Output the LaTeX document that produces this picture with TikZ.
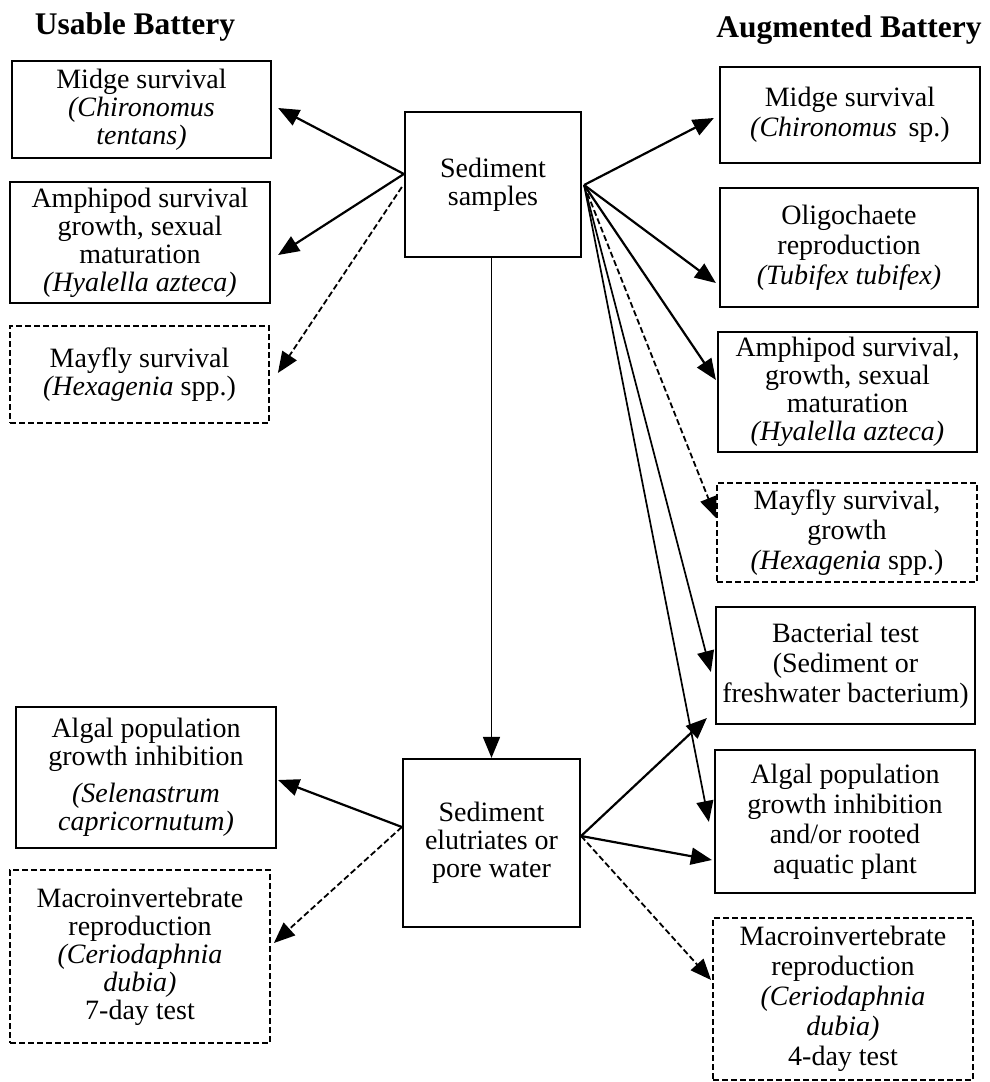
\documentclass[tikz,border=0pt]{standalone}
\usepackage{fontspec}
\setmainfont{Liberation Serif}
\usetikzlibrary{arrows.meta,calc}

\tikzset{
  txt/.style={font=\fontsize{28pt}{28pt}\selectfont, align=center},
  txtr/.style={font=\fontsize{28pt}{30pt}\selectfont, align=center},
  box/.style={draw, line width=2.2pt, rectangle, inner sep=0pt},
  dbox/.style={box, line width=1.8pt, dash pattern=on 6pt off 3pt},
  title/.style={font=\fontsize{31.5pt}{32pt}\selectfont\bfseries},
  link/.style={line width=2.2pt, -{Triangle[length=21pt,width=17pt]}},
  thin link/.style={link, line width=1.7pt},
  dlink/.style={link, line width=1.8pt, dash pattern=on 6pt off 3pt},
}

\begin{document}
\begin{tikzpicture}[x=1pt,y=-1pt]
\useasboundingbox (0,0) rectangle (989,1082);

% headings
\node[title] (tU) at (135,27) {Usable Battery};
\node[title] (tA) at (849,30) {Augmented Battery};

% source boxes
\node[box, txt, minimum width=176pt, minimum height=145pt] (S) at (493,184.5)
  {Sediment\\samples};
\node[box, txt, minimum width=177pt, minimum height=168pt] (E) at (491.5,843)
  {Sediment\\elutriates or\\pore water};

% usable battery
\node[box, txt, minimum width=259pt, minimum height=97pt] (L1) at (141.5,109.5)
  {Midge survival\\\textit{(Chironomus}\\\textit{tentans)}};
\node[box, txt, minimum width=260pt, minimum height=121pt] (L2) at (140,242.5)
  {Amphipod survival\\growth, sexual\\maturation\\\textit{(Hyalella azteca)}};
\node[dbox, txt, minimum width=259pt, minimum height=97pt] (L3) at (139.5,374.5)
  {Mayfly survival\\\textit{(Hexagenia} spp.)};
\node[box, txt, minimum width=260pt, minimum height=141pt] (L4) at (146,777.5)
  {Algal population\\growth inhibition\\[9pt]\textit{(Selenastrum}\\\textit{capricornutum)}};
\node[dbox, txt, minimum width=260pt, minimum height=173pt] (L5) at (140,956.5)
  {Macroinvertebrate\\reproduction\\\textit{(Ceriodaphnia}\\\textit{dubia)}\\7-day test};

% augmented battery
\node[box, txtr, minimum width=260pt, minimum height=96pt] (R1) at (850,115)
  {Midge survival\\\textit{(Chironomus}\, sp.)};
\node[box, txtr, minimum width=258pt, minimum height=119pt] (R2) at (849,247.5)
  {Oligochaete\\reproduction\\\textit{(Tubifex tubifex)}};
\node[box, txt, minimum width=259pt, minimum height=120pt] (R3) at (847.5,392)
  {Amphipod survival,\\growth, sexual\\maturation\\\textit{(Hyalella azteca)}};
\node[dbox, txtr, minimum width=260pt, minimum height=99pt] (R4) at (847,532.5)
  {Mayfly survival,\\growth\\\textit{(Hexagenia} spp.)};
\node[box, txtr, minimum width=259pt, minimum height=117pt] (R5) at (845.5,665.5)
  {Bacterial test\\(Sediment or\\freshwater bacterium)};
\node[box, txtr, minimum width=260pt, minimum height=143pt] (R6) at (845,821.5)
  {Algal population\\growth inhibition\\and/or rooted\\aquatic plant};
\node[dbox, txtr, minimum width=260pt, minimum height=162pt] (R7) at (843,999)
  {Macroinvertebrate\\reproduction\\\textit{(Ceriodaphnia}\\\textit{dubia)}\\4-day test};

% connection points on the source boxes
\coordinate (Sw) at ($(S.west)+(0,-10.5)$);
\coordinate (Swd) at ($(S.west)+(-2,2.5)$);
\coordinate (Se) at ($(S.east)+(2,0.5)$);
\coordinate (Ew) at ($(E.west)+(0,-16)$);
\coordinate (Ee) at ($(E.east)+(0,-7)$);

% sediment samples -> usable battery
\draw[link]  (Sw)  -- ($(L1.east)+(6,-1.5)$);
\draw[link]  (Sw)  -- ($(L2.east)+(7,12.5)$);
\draw[dlink] (Swd) -- ($(L3.east)+(8,-1.5)$);

% sediment samples -> elutriates
\draw[thin link] (S.south -| E.north) -- (E.north);

% sediment samples -> augmented battery
\draw[link]      (Se) -- ($(R1.west)+(-5,3)$);
\draw[link]      (Se) -- ($(R2.west)+(-3,35.5)$);
\draw[link]      (Se) -- ($(R3.west)+(-1,-12)$);
\draw[dlink]     (Se) -- ($(R4.west)+(0,-14.5)$);
\draw[thin link] (Se) -- ($(R5.west)+(-4,6.5)$);
\draw[thin link] (Se) -- ($(R6.west)+(-5,0.5)$);

% elutriates -> usable battery
\draw[link]  (Ew) -- ($(L4.east)+(1,2.5)$);
\draw[dlink] (Ew) -- ($(L5.east)+(3,-13.5)$);

% elutriates -> augmented battery
\draw[link]  (Ee) -- ($(R5.west)+(-8,52.5)$);
\draw[link]  (Ee) -- ($(R6.west)+(-2,38.5)$);
\draw[dlink] (Ee) -- ($(R7.west)+(-1,-19)$);
\end{tikzpicture}
\end{document}
